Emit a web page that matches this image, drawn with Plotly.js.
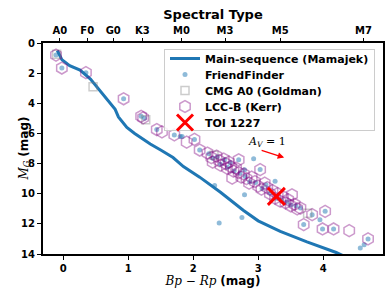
<!DOCTYPE html>
<html><head><meta charset="utf-8">
<script src="https://cdn.plot.ly/plotly-3.0.1.min.js"></script>
<style>html,body{margin:0;padding:0;background:#fff;}#c{width:391px;height:293px;}</style>
</head><body><div id="c"></div>
<script>
// Main sequence (Mamajek)
var msX = [-0.09, -0.02, 0.1, 0.26, 0.42, 0.57, 0.7, 0.8, 0.85, 0.98, 1.1, 1.23, 1.34, 1.5, 1.69, 1.85, 2.1, 2.42, 2.77, 3.0, 3.34, 3.75, 4.2, 4.35];
var msY = [0.5, 1.1, 1.5, 1.8, 2.4, 3.2, 3.9, 4.4, 4.9, 5.6, 6.0, 6.4, 6.7, 7.1, 7.6, 8.2, 8.9, 9.9, 11.1, 11.8, 12.5, 13.2, 13.9, 14.2];
// FriendFinder
var ffX = [-0.11,-0.02,0.35,0.93,1.2,1.25,1.44,1.71,1.8,1.83,2.02,2.1,2.24,2.3,2.37,2.42,2.48,2.53,2.57,2.63,2.7,2.72,2.79,2.8,2.87,2.93,2.96,3.03,3.06,3.12,3.18,3.26,3.28,3.36,3.44,3.5,3.58,3.65,3.7,3.83,3.95,3.99,4.03,4.16,4.69,4.63,4.57,2.79,2.75,2.4,2.33];
var ffY = [0.8,1.66,1.97,3.7,4.86,5.0,5.74,6.1,6.2,6.2,6.4,7.1,7.35,7.65,7.55,8.05,7.75,8.25,7.95,8.5,7.75,8.65,8.41,8.85,9.2,7.68,9.25,8.4,9.65,9.4,9.95,9.18,10.3,10.45,10.55,10.75,10.8,10.95,12.05,11.39,11.72,12.34,11.17,12.34,13.0,13.38,13.6,10.07,11.57,11.94,9.45];
// CMG A0 (Goldman)
var cmgX = [-0.1, 0.46, 1.27, 2.32, 3.76];
var cmgY = [0.75, 2.9, 5.1, 7.45, 11.3];
// LCC-B (Kerr)
var lccX = [-0.11,-0.02,0.35,0.93,1.2,1.23,1.44,1.52,1.71,1.9,2.02,2.1,2.22,2.28,2.3,2.36,2.4,2.42,2.47,2.5,2.52,2.55,2.58,2.6,2.62,2.66,2.7,2.7,2.74,2.78,2.82,2.86,2.9,2.95,3.0,3.03,3.05,3.1,3.14,3.18,3.22,3.26,3.3,3.34,3.38,3.42,3.46,3.5,3.52,3.56,3.6,3.65,3.7,3.83,4.03,3.99,4.16,4.4,4.69];
var lccY = [0.8,1.66,1.97,3.7,4.86,4.97,5.74,5.9,6.1,6.58,6.4,7.1,7.3,7.6,7.9,7.5,7.8,8.1,7.7,8.0,8.3,7.9,8.2,8.96,8.5,8.3,7.75,8.6,8.9,8.7,9.0,9.3,8.9,9.2,9.5,8.4,9.7,9.3,9.6,10.0,9.8,10.3,10.0,10.5,10.2,10.6,10.4,10.8,10.07,10.7,11.0,10.95,12.05,11.39,11.17,12.34,12.34,12.45,13.0];
// TOI 1227
var toiX = [3.28];
var toiY = [10.18];
// Spectral types (top axis)
var spX = [-0.05, 0.37, 0.77, 1.22, 1.82, 2.49, 3.34, 4.62];
var spT = ['A0','F0','G0','K3','M0','M3','M5','M7'];
var xTicks = [0,1,2,3,4];
var yTicks = [0,2,4,6,8,10,12,14];
var xRange = [-0.31, 4.92];

var bold = {family:'DejaVu Sans', size:10, color:'#000', weight:'bold'};
var traces = [
  {x:msX, y:msY, mode:'lines', name:'Main-sequence (Mamajek)', line:{color:'#1f77b4', width:3}, xaxis:'x', yaxis:'y'},
  {x:ffX, y:ffY, mode:'markers', name:'FriendFinder', marker:{color:'rgba(31,119,180,0.5)', size:5}},
  {x:cmgX, y:cmgY, mode:'markers', name:'CMG A0 (Goldman)', marker:{symbol:'square-open', color:'rgba(128,128,128,0.4)', size:8, line:{width:1.5}}},
  {x:lccX, y:lccY, mode:'markers', name:'LCC-B (Kerr)', marker:{symbol:'hexagon-open', color:'rgba(128,0,128,0.4)', size:12, line:{width:1.5}}},
  {x:toiX, y:toiY, mode:'markers', name:'TOI 1227', marker:{symbol:'x-thin-open', color:'#ff0000', size:17, line:{width:3, color:'#ff0000'}}},
  {x:[spX[0]], y:[0], mode:'markers', xaxis:'x2', yaxis:'y', showlegend:false, hoverinfo:'skip', marker:{opacity:0}}
];
var layout = {
  width:391, height:293,
  margin:{l:43, r:8, t:43, b:39, autoexpand:false},
  paper_bgcolor:'#fff', plot_bgcolor:'#fff',
  showlegend:true,
  font:{family:'DejaVu Sans', color:'#000'},
  xaxis:{range:xRange, tickvals:xTicks, ticktext:xTicks.map(String), ticks:'outside', ticklen:4, tickwidth:1, tickcolor:'#000',
    showgrid:false, zeroline:false, showline:true, linecolor:'#000', linewidth:2, mirror:true, tickfont:bold, automargin:false,
    title:{text:'<span style="font-family:DejaVu Serif"><i>Bp</i> − <i>Rp</i></span> <b>(mag)</b>', font:{family:'DejaVu Sans', size:12}, standoff:0}},
  xaxis2:{range:xRange, overlaying:'x', side:'top', tickvals:spX, ticktext:spT, ticks:'outside', ticklen:4, tickwidth:1, tickcolor:'#000',
    showgrid:false, zeroline:false, showline:false, tickfont:bold, automargin:false,
    title:{text:'<b>Spectral Type</b>', font:{family:'DejaVu Sans', size:13}, standoff:2}},
  yaxis:{range:[14,0], tickvals:yTicks, ticks:'outside', ticklen:4, tickwidth:1, tickcolor:'#000', automargin:false,
    showgrid:false, zeroline:false, showline:true, linecolor:'#000', linewidth:2, mirror:true, tickfont:bold},
  legend:{x:(375-43)/340, y:1-(49-43)/211, xanchor:'right', yanchor:'top', bgcolor:'rgba(255,255,255,0.85)', bordercolor:'#ccc', borderwidth:1,
    font:{family:'DejaVu Sans', size:11, weight:'bold'}, tracegroupgap:0, itemwidth:30},
  annotations:[
    {x:3.4, y:7.6, ax:3.03, ay:7.1, axref:'x', ayref:'y', xref:'x', yref:'y', text:'', showarrow:true, arrowcolor:'#ff0000', arrowwidth:1.3, arrowhead:2, arrowsize:1},
    {x:3.13, y:6.6, xref:'x', yref:'y', showarrow:false, text:'<i>A</i><sub><i>V</i></sub> = 1', font:{family:'DejaVu Serif', size:11, color:'#000'}},
    {x:(14-43)/340, y:0.5, xref:'paper', yref:'paper', showarrow:false, textangle:-90,
      text:'<span style="font-family:DejaVu Serif"><i>M</i><sub><i>G</i></sub></span> <b>(mag)</b>', font:{family:'DejaVu Sans', size:12, color:'#000'}}
  ]
};
Plotly.newPlot('c', traces, layout, {displayModeBar:false, staticPlot:true}).then(function(gd){
  // tighten legend row spacing to match the reference
  var step = 16, shiftUp = 6;
  var items = gd.querySelectorAll('.legend .traces');
  if (!items.length) return;
  var y0 = null;
  items.forEach(function(el, i){
    var t = el.getAttribute('transform') || '';
    var m = t.match(/translate\(\s*([-\d.]+)[ ,]+([-\d.]+)\s*\)/);
    if (!m) return;
    var x = parseFloat(m[1]), y = parseFloat(m[2]);
    if (y0 === null) y0 = y;
    el.setAttribute('transform', 'translate(' + x + ',' + (y0 - shiftUp + i*step) + ')');
  });
  var bg = gd.querySelector('.legend rect.bg');
  if (bg) { bg.setAttribute('height', 81); }
});
</script></body></html>
